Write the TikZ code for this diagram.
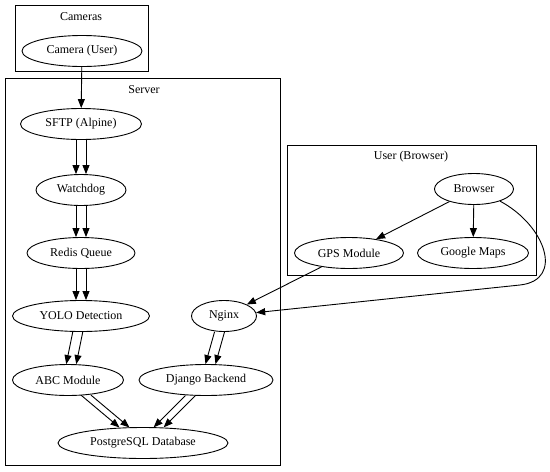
\documentclass[tikz,border=0pt]{standalone}
\usepackage{fontspec}
\setmainfont{Liberation Serif}
\usetikzlibrary{shapes.geometric,arrows.meta}
\begin{document}
\begin{tikzpicture}[x=1pt,y=-1pt,
  nd/.style={ellipse,draw,line width=0.9pt,inner sep=0pt,minimum height=31pt,font=\fontsize{12}{14}\selectfont},
  cl/.style={draw,line width=0.9pt},
  lbl/.style={font=\fontsize{12}{14}\selectfont,inner sep=0pt},
  arr/.style={-{Triangle[length=9pt,width=7pt]},line width=0.9pt},
  lft/.style={transform canvas={xshift=-5pt}},
  rgt/.style={transform canvas={xshift=5pt}},
]
\useasboundingbox[fill=white] (0,0) rectangle (550,472);

% clusters
\draw[cl] (15,5) rectangle (148,71);
\node[lbl] (lcam) at (81,17) {Cameras};
\draw[cl] (5,78) rectangle (280,465);
\node[lbl] (lsrv) at (144,90) {Server};
\draw[cl] (287,145) rectangle (536,275);
\node[lbl] (lusr) at (411,157) {User (Browser)};

% nodes
\node[nd,minimum width=120pt] (cam) at (82,51) {Camera (User)};
\node[nd,minimum width=121pt] (sftp) at (81,124) {SFTP (Alpine)};
\node[nd,minimum width=90pt] (watch) at (81,190) {Watchdog};
\node[nd,minimum width=108pt] (redis) at (81,253) {Redis Queue};
\node[nd,minimum width=137pt] (yolo) at (81,316) {YOLO Detection};
\node[nd,minimum width=65pt] (nginx) at (224,316) {Nginx};
\node[nd,minimum width=111pt] (abc) at (68,380) {ABC Module};
\node[nd,minimum width=134pt] (django) at (206,380) {Django Backend};
\node[nd,minimum width=170pt] (pg) at (143,443) {PostgreSQL Database};
\node[nd,minimum width=79pt] (browser) at (474,189) {Browser};
\node[nd,minimum width=109pt] (gps) at (349,253) {GPS Module};
\node[nd,minimum width=111pt] (gmaps) at (473,253) {Google Maps};

% edges
\draw[arr] (cam) -- (sftp);
\foreach \a/\b in {sftp/watch,watch/redis,redis/yolo,yolo/abc,abc/pg,nginx/django,django/pg}{
  \draw[arr,lft] (\a) -- (\b);
  \draw[arr,rgt] (\a) -- (\b);
}
\draw[arr] (browser) -- (gps);
\draw[arr] (browser) -- (gmaps);
\draw[arr] (gps) -- (nginx);
\draw[arr] (browser.-25) .. controls (545,225) and (565,280) .. (520,285) -- (nginx);
\end{tikzpicture}
\end{document}
